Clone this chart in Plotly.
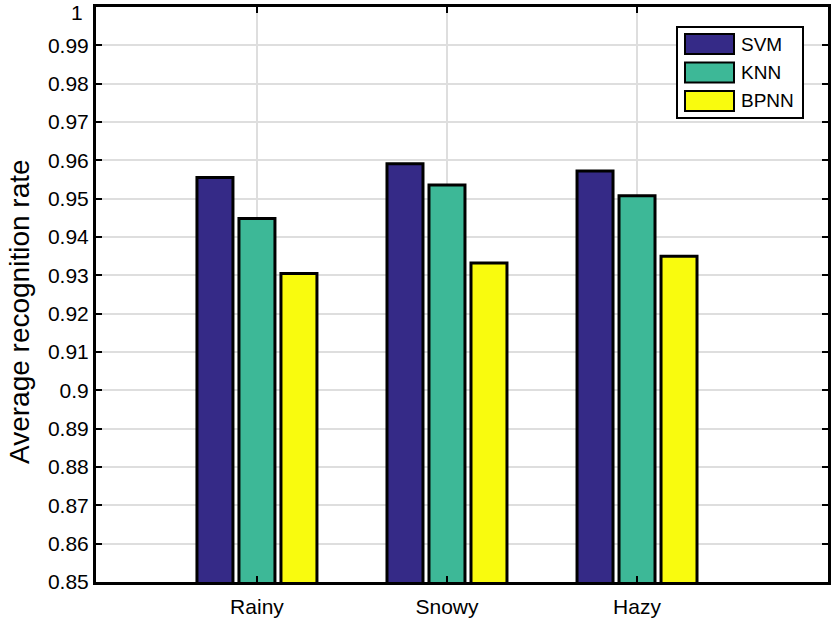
import plotly.graph_objects as go

# datos
categories = ["Rainy", "Snowy", "Hazy"]
svm = [0.9555, 0.9591, 0.9572]
knn = [0.9448, 0.9536, 0.9508]
bpnn = [0.9305, 0.9332, 0.9350]
series_names = ["SVM", "KNN", "BPNN"]
colors = ["#352a87", "#3db897", "#f9fb0e"]
yticks = [round(0.85 + 0.01 * i, 2) for i in range(16)]

FONT = "Liberation Sans, Arial, Helvetica, sans-serif"
xpos = list(range(1, len(categories) + 1))

fig = go.Figure()
for name, vals, col in zip(series_names, [svm, knn, bpnn], colors):
    fig.add_trace(go.Bar(x=xpos, y=vals, name=name,
                         marker=dict(color=col, line=dict(color="black", width=3)),
                         showlegend=False))

axis_common = dict(showline=True, linecolor="black", linewidth=3, mirror="ticks",
                   ticks="inside", ticklen=6, tickwidth=2, tickcolor="black",
                   showgrid=True, gridcolor="#dedede", gridwidth=2, zeroline=False,
                   automargin=False,
                   tickfont=dict(family=FONT, size=21, color="black"))

# la etiqueta superior ("1") se pone aparte porque plotly la oculta en el borde
ytext = [("%g" % v) for v in yticks]
top_label = ytext[-1]
ytext[-1] = ""

fig.update_xaxes(range=[0.153, 4.005], tickmode="array", tickvals=xpos,
                 ticktext=categories, ticklabelstandoff=4, **axis_common)
fig.update_yaxes(range=[0.85, 1.00001], tickmode="array", tickvals=yticks,
                 ticktext=ytext, **axis_common)

# leyenda dibujada a mano (cajas grandes como en el original)
W, H = 832, 620
L, R, T, B = 96, 4, 7, 38
pw, ph = W - L - R, H - T - B
def px(x):
    return (x - L) / pw
def py(y):
    return 1 - (y - T) / ph

shapes = [dict(type="rect", xref="paper", yref="paper",
               x0=px(677), x1=px(803), y0=py(118), y1=py(27),
               line=dict(color="black", width=2), fillcolor="white", layer="above")]
annots = [
    dict(xref="paper", yref="paper", x=px(84), y=py(0), xanchor="right",
         yanchor="top", text=top_label, showarrow=False, borderpad=0,
         font=dict(family=FONT, size=21, color="black")),
    dict(xref="paper", yref="paper", x=px(19), y=py(312), xanchor="center",
         yanchor="middle", text="Average recognition rate", textangle=-90,
         showarrow=False, font=dict(family=FONT, size=28, color="black")),
]
for i, (name, col) in enumerate(zip(series_names, colors)):
    yc = 44 + i * 28.5
    shapes.append(dict(type="rect", xref="paper", yref="paper",
                       x0=px(685), x1=px(734), y0=py(yc + 10), y1=py(yc - 10),
                       line=dict(color="black", width=2), fillcolor=col, layer="above"))
    annots.append(dict(xref="paper", yref="paper", x=px(739), y=py(yc),
                       xanchor="left", yanchor="middle", text=name, showarrow=False,
                       font=dict(family=FONT, size=19, color="black")))

fig.update_layout(width=W, height=H, barmode="group", bargap=0.337, bargroupgap=0.143,
                  plot_bgcolor="white", paper_bgcolor="white",
                  margin=dict(l=L, r=R, t=T, b=B),
                  shapes=shapes, annotations=annots,
                  font=dict(family=FONT, color="black"))

fig.write_html("out.html", config={"displayModeBar": False},
               post_script="document.body.style.margin='0';")
